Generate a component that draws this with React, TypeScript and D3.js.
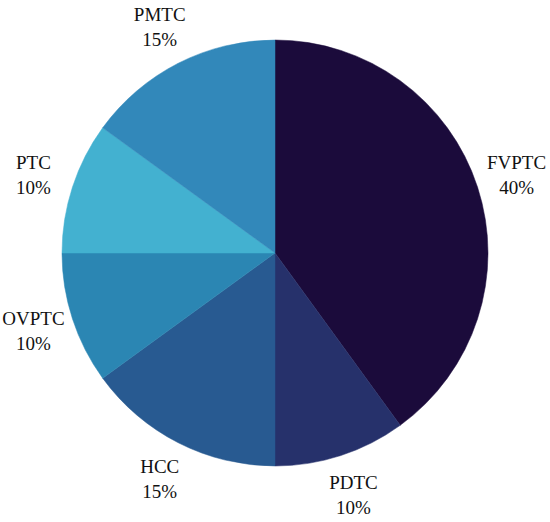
import React from "react";
import * as d3 from "d3";

const categories = ["FVPTC", "PDTC", "HCC", "OVPTC", "PTC", "PMTC"];
const values = [40, 10, 15, 10, 10, 15];
const colors = ["#1b0b3b", "#26316b", "#285a91", "#2b86b3", "#43b1d0", "#3288ba"];

const W = 550;
const H = 522;
const CX = 275;
const CY = 253;
const R = 213;
const LABEL_R = 254;

export default function App() {
  const data = categories.map((c, i) => ({ name: c, value: values[i], color: colors[i] }));
  const pie = d3.pie<any>().value((d: any) => d.value).sort(null);
  const arcs = pie(data);
  const arcGen = d3.arc<any>().innerRadius(0).outerRadius(R);
  const total = d3.sum(values);
  return (
    <svg
      width={W}
      height={H}
      style={{ position: "absolute", left: 0, top: 0, background: "#fff" }}
      fontFamily="'Liberation Serif', 'Times New Roman', serif"
    >
      <g transform={`translate(${CX},${CY})`}>
        {arcs.map((a: any, i: number) => (
          <path key={i} d={arcGen(a) as string} fill={a.data.color} stroke={a.data.color} strokeWidth={0.5} />
        ))}
        {arcs.map((a: any, i: number) => {
          const mid = (a.startAngle + a.endAngle) / 2;
          const x = Math.sin(mid) * LABEL_R;
          const y = -Math.cos(mid) * LABEL_R;
          return (
            <text key={"t" + i} x={x} y={y} textAnchor="middle" fontSize={19} fill="#111">
              <tspan x={x} dy={-6}>{a.data.name}</tspan>
              <tspan x={x} dy={25}>{Math.round((a.data.value / total) * 100)}%</tspan>
            </text>
          );
        })}
      </g>
    </svg>
  );
}
